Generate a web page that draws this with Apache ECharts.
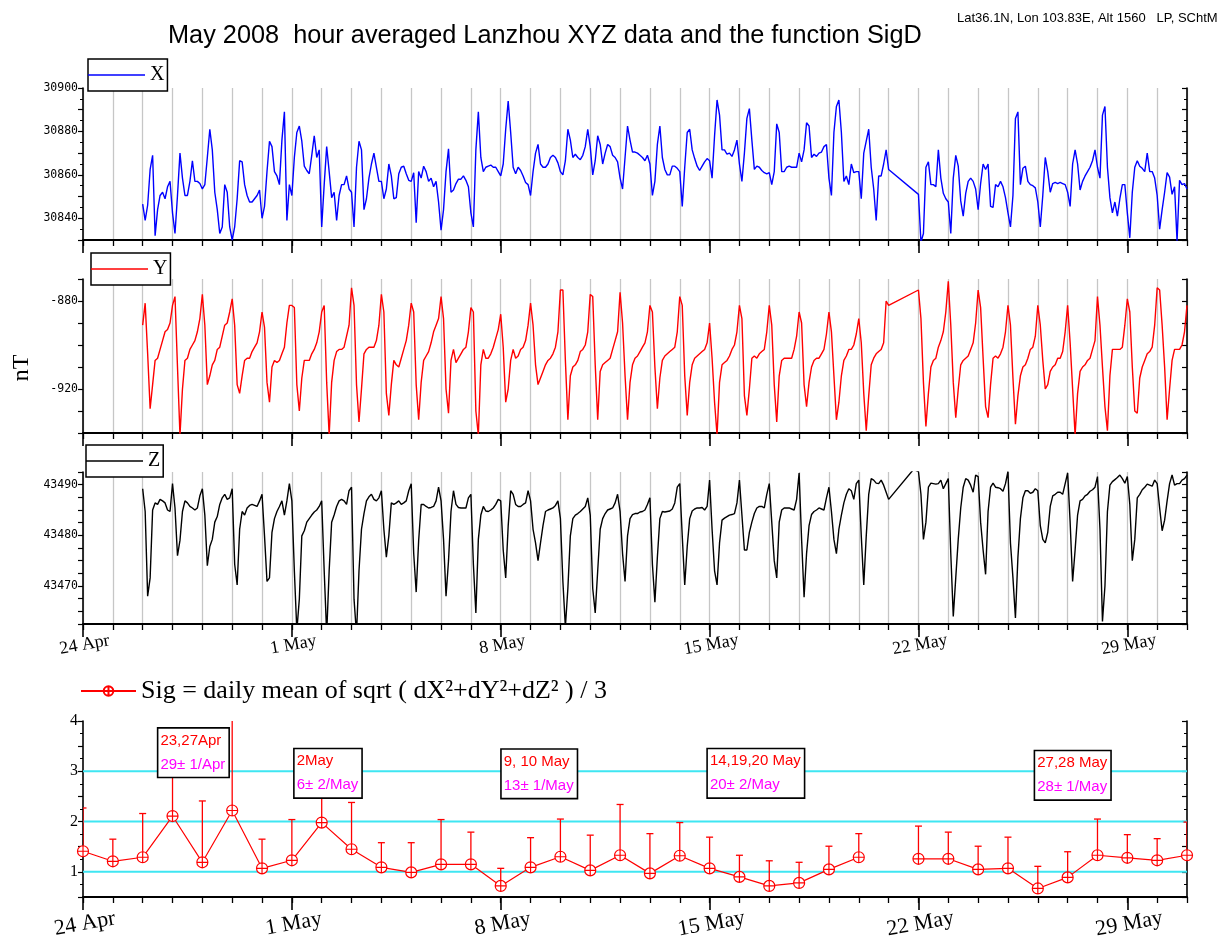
<!DOCTYPE html>
<html>
<head>
<meta charset="utf-8">
<script src="https://cdn.jsdelivr.net/npm/echarts@6/dist/echarts.min.js"></script>
<style>
html,body{margin:0;padding:0;background:#fff;}
#c{width:1218px;height:949px;}
</style>
</head>
<body>
<div id="c"></div>
<script>
// ---------------- DATA ----------------
// hourly-averaged series, sampled every 2 hours, starting 26 Apr 2008 00:00
const SERIES_START_DAY = 2;      // days after 24 Apr
const SAMPLE_STEP_DAY = 1 / 12;  // 2 hours
const DAY_MAX = 37;              // 31 May 00:00

const X_VALUES = [
30846.5,30839,30846,30862.5,30869,30832,30844,30850.5,30852,30849,30854.5,30857,
30842.5,30833,30850.5,30870,30858.5,30850.5,30850.5,30857,30866.5,30857,30857,30856,
30853.5,30855.5,30868,30881,30871.5,30852,30844,30833,30836,30855.5,30852,30836,
30830,30836,30849,30866.5,30866,30855.5,30850.5,30847.5,30847.5,30849,30850.5,30853,
30840,30845.5,30861.5,30875.5,30873,30861.5,30859.5,30855.5,30876,30889,30839,30855.5,
30850.5,30868,30879.5,30882.5,30875.5,30864,30862,30860.5,30869,30878,30868,30871.5,
30836,30855.5,30873,30861.5,30849.5,30852,30839,30850.5,30855.5,30855.5,30859.5,30853.5,
30852,30836,30863.5,30875.5,30871.5,30844,30849,30858.5,30865,30870,30863.5,30857,
30857,30849,30853.5,30865,30859.5,30849,30849.5,30860.5,30863.5,30864,30860.5,30857.5,
30857,30861,30838,30861.5,30858.5,30864,30861.5,30857,30858.5,30854.5,30857,30847.5,
30834.5,30844,30861.5,30872,30852,30853,30856,30858,30858,30859.5,30857.5,30854.5,
30842.5,30836,30871.5,30889,30868,30861.5,30863.5,30864,30864.5,30863.5,30863.5,30861.5,
30859.5,30865,30881,30894,30879.5,30863.5,30860.5,30863.5,30862,30859.5,30856.5,30855.5,
30850.5,30861.5,30870,30874,30865,30863.5,30863.5,30865,30868,30869,30868,30865.5,
30861.5,30860,30866.5,30881,30876,30868,30869.5,30868,30867,30869,30873,30881,
30873,30860,30866.5,30878,30874,30865,30870,30874,30873,30869,30868,30866,
30858.5,30853.5,30868,30882.5,30876,30870.5,30870.5,30870,30869,30868,30866.5,30869,
30865,30850.5,30857,30874,30882.5,30868,30862.5,30860,30860,30864,30864,30863,
30861.5,30845.5,30863.5,30879.5,30881,30871.5,30867.5,30864,30862,30864,30866,30867.5,
30866.5,30858.5,30878,30894.5,30887.5,30871.5,30871.5,30869.5,30870,30868.5,30871.5,30876,
30865,30857,30870,30886,30890.5,30876,30862.5,30864,30863.5,30862,30861,30860.5,
30861,30855.5,30861.5,30883.5,30879.5,30861.5,30861.5,30863.5,30864,30863.5,30863.5,30863.5,
30870,30866,30871.5,30884,30882.5,30868,30869.5,30868.5,30870,30870.5,30873,30874,
30858.5,30850.5,30879.5,30891.5,30894.5,30879.5,30857,30859.5,30855.5,30865,30861,30861.5,
30861.5,30849,30870,30875.5,30881,30863.5,30853.5,30839,30859.5,30859.5,30865,30871.5,
30862.5,null,null,null,null,null,null,null,null,null,null,null,
30851,30829,30833,30863.5,30866,30855.5,30855.5,30854.5,30871.5,30858.5,30851.5,30849,
30847.5,30833,30858.5,30869,30864,30848,30841,30851.5,30857,30858.5,30857,30853.5,
30844,30856,30865,30862.5,30865,30845.5,30845,30855.5,30854.5,30857,30854.5,30849.5,
30842.5,30836,30850.5,30886,30889,30855.5,30863,30864,30857,30855.5,30855,30854,
30847.5,30836,30850.5,30868,30861.5,30852,30856,30856.5,30856,30856.5,30856,30855.5,
30852,30845.5,30865,30871.5,30865,30853,30857,30859.5,30861.5,30863.5,30866.5,30871.5,
30863.5,30858.5,30887.5,30891.5,30863.5,30849.5,30842.5,30847.5,30841,30849,30855.5,30855.5,
30842.5,30831,30852,30863.5,30866.5,30864,30863,30861.5,30870,30861.5,30861.5,30858.5,
30850.5,30835,30844,30852,30861,30859,30851,30854.5,30829.5,30857.5,30855.5,30856,
30853.5
];

const Y_VALUES = [
-891,-881,-904,-929,-918,-907,-906,-902,-898,-894,-893,-890,
-882,-878,-910,-941,-920,-907,-906,-902,-900,-898,-894,-888,
-877,-891,-918,-914,-909,-907,-902,-901,-896,-891,-890,-885,
-879,-891,-918,-922,-914,-907,-906,-906,-903,-901,-899,-894,
-885,-892,-917,-926,-910,-907,-908,-907,-904,-901,-890,-882,
-882,-883,-918,-930,-915,-907,-907,-907,-904,-902,-899,-894,
-885,-882,-917,-941,-917,-907,-903,-902,-902,-901,-896,-891,
-874,-882,-918,-935,-920,-904,-902,-901,-901,-901,-898,-891,
-877,-885,-922,-932,-918,-907,-909,-910,-906,-902,-898,-891,
-881,-885,-918,-934,-917,-907,-905,-903,-899,-894,-891,-888,
-878,-888,-920,-931,-907,-902,-908,-906,-904,-902,-901,-894,
-883,-885,-930,-941,-909,-902,-906,-906,-904,-901,-897,-893,
-886,-901,-926,-920,-907,-902,-906,-905,-902,-901,-898,-891,
-881,-891,-909,-918,-915,-912,-909,-907,-906,-904,-901,-894,
-875,-875,-907,-934,-914,-910,-909,-907,-903,-902,-900,-894,
-877,-878,-909,-934,-912,-909,-908,-907,-906,-902,-898,-894,
-876,-890,-914,-934,-917,-909,-906,-905,-903,-901,-899,-894,
-882,-885,-910,-929,-915,-907,-905,-904,-903,-902,-901,-894,
-878,-882,-914,-932,-917,-909,-906,-905,-904,-903,-902,-899,
-890,-906,-926,-941,-917,-909,-908,-907,-905,-902,-900,-894,
-882,-888,-923,-932,-920,-906,-905,-906,-904,-903,-902,-894,
-882,-891,-918,-935,-914,-907,-906,-906,-906,-906,-902,-896,
-885,-890,-918,-928,-917,-910,-907,-906,-906,-904,-902,-895,
-885,-894,-914,-934,-926,-914,-907,-905,-902,-902,-900,-895,
-888,-899,-922,-939,-923,-909,-906,-904,-903,-902,-899,-880,
-882,null,null,null,null,null,null,null,null,null,null,null,
-875,-888,-917,-937,-922,-910,-907,-906,-901,-898,-894,-885,
-871,-891,-917,-933,-920,-909,-907,-906,-905,-902,-899,-890,
-875,-883,-906,-928,-933,-918,-906,-905,-906,-904,-901,-894,
-882,-891,-915,-936,-923,-914,-910,-909,-906,-902,-901,-896,
-882,-891,-907,-920,-918,-912,-910,-909,-906,-906,-903,-894,
-882,-899,-920,-941,-922,-912,-910,-909,-907,-906,-902,-898,
-878,-891,-910,-928,-939,-914,-902,-902,-902,-902,-901,-891,
-879,-885,-910,-930,-931,-915,-910,-907,-904,-903,-901,-891,
-874,-875,-891,-910,-934,-920,-907,-902,-902,-902,-900,-894,
-882
];

const Z_VALUES = [
43489.2,43484.7,43468,43471.6,43485,43486.4,43486.1,43487.1,43486.8,43486.4,43485,43484.7,
43490.2,43485.4,43476,43479,43484.7,43486.8,43486.4,43485.7,43485.4,43485,43485.4,43487.8,
43489.2,43484,43474,43477.8,43479.2,43482.6,43483.7,43486.1,43487.4,43488.1,43487.1,43487.4,
43489.2,43474.3,43470.2,43481.2,43484.7,43484,43485.4,43485.9,43486.1,43485.9,43485.7,43486.8,
43488.1,43479.9,43470.9,43471.6,43480.6,43483.3,43484.7,43485.7,43486.8,43484,43486.8,43490.2,
43486.8,43473,43461.2,43467.4,43479.9,43480.9,43482.6,43483.3,43484,43484.6,43485,43485.7,
43486.8,43473,43460.5,43473,43482.6,43484,43485.7,43486.8,43487.1,43486.8,43486.1,43488.8,
43489.5,43467.4,43460.5,43473,43481.2,43484.3,43486.8,43487.6,43488.1,43487.1,43486.8,43487.4,
43488.8,43481.2,43475.7,43479.9,43486.4,43486.1,43486.4,43486.8,43486.1,43486.4,43486.8,43488.8,
43490.2,43476.4,43468.8,43479,43486.1,43486.1,43485.7,43485.4,43485.5,43485.7,43486.8,43489.5,
43486.8,43479.2,43468,43475,43484.7,43488.8,43486.1,43485.5,43485.4,43485.4,43485.4,43487.4,
43488.1,43474.3,43464.7,43479.2,43484,43485.7,43484.8,43484.7,43485,43485.4,43486.1,43487.1,
43486.8,43477.1,43471.6,43481.9,43488.8,43488.1,43486.1,43485.7,43485.7,43486.1,43486.4,43488.8,
43486.8,43481.2,43478.5,43475,43478.5,43481.9,43484.7,43485,43485.2,43485.4,43485.9,43486.8,
43483.3,43470.9,43461.9,43469.5,43479.9,43483.3,43484,43484.3,43484.7,43485.2,43485.7,43487.4,
43484,43469.5,43464.7,43473,43481.2,43483.3,43484.3,43485,43485.2,43485.4,43486.4,43488.1,
43484.7,43476.4,43470.9,43479.9,43483.3,43484.1,43484.3,43484.3,43484.6,43484.7,43485,43486.1,
43487.4,43474.3,43466.8,43475.7,43483.3,43484.7,43484.6,43484.7,43484.8,43485.2,43486.4,43489.5,
43490.2,43479.9,43470.2,43477.8,43483.3,43484.8,43485.2,43485.4,43485.4,43485.5,43485,43485.7,
43490.9,43481.2,43473,43470.2,43478.5,43483,43483.4,43483.7,43484,43484.1,43484.3,43486.4,
43490.9,43484,43477.1,43477.1,43480.6,43482.6,43484.3,43485.4,43485.7,43485.7,43485.4,43488.1,
43490.2,43482.6,43475,43471.6,43482.6,43485,43485.4,43485.4,43485.4,43485.2,43485,43487.1,
43492.3,43479.2,43467.8,43476.4,43481.9,43484.1,43484.7,43485,43485.4,43485.2,43485,43487.4,
43489.5,43484.7,43479.2,43476.4,43481.2,43484,43486.4,43488.1,43489.2,43488.8,43487.1,43490.2,
43490.9,43479.9,43470.2,43479.9,43488.1,43491.2,43490.9,43490.3,43490.2,43490.9,43489.9,43488.5,
43487.1,null,null,null,null,null,null,null,null,null,43493,null,
43492.6,43488.1,43479.2,43482.6,43489.5,43490.3,43490.2,43490.1,43490.2,43490.9,43489.2,43490.2,
43491.2,43476.4,43464,43471.6,43479.2,43485.4,43489.5,43491.2,43490.9,43489.9,43488.5,43491.9,
43491.6,43482.6,43477.1,43472.3,43484.7,43489.5,43490.3,43489.5,43489.4,43489.2,43488.7,43490.2,
43492.6,43478.5,43471.6,43463.7,43475.7,43483.3,43487.4,43488.8,43488.8,43488.3,43488.5,43489.2,
43488.8,43481.9,43479.2,43478.5,43480.6,43485.7,43487.8,43488.1,43488.5,43488.5,43488.1,43490.2,
43492.3,43482.6,43470.9,43477.1,43484,43486.8,43487.1,43487.8,43488.1,43488.7,43489,43489.5,
43491.6,43481.2,43463,43470,43484.7,43489.9,43490.6,43491,43491.4,43491.9,43491.2,43490.3,
43491.6,43486.1,43475,43479.2,43487.4,43488.1,43489,43489.5,43490.1,43489.9,43489.7,43490.9,
43490.2,43485.4,43480.9,43483,43486.8,43490.2,43491.9,43489.9,43490.2,43490.2,43490.9,43491.2,
43491.9
];

// daily Sig values (24 Apr .. 31 May) and top of their error bars
const SIG_VALUES = [1.41,1.21,1.29,2.11,1.19,2.22,1.07, 1.23,1.98,1.45,1.09,0.99,1.15,1.15,
  0.72,1.09,1.30,1.03,1.33,0.97,1.32, 1.07,0.90,0.72,0.78,1.05,1.29,null,
  1.26,1.26,1.05,1.07,0.67,0.89,1.33, 1.28,1.23,1.33];
const SIG_UPPER = [2.27,1.65,2.16,3.2,2.41,4.5,1.65, 2.04,2.9,2.38,1.58,1.58,2.04,1.79,
  1.07,1.68,2.05,1.73,2.34,1.76,1.98, 1.69,1.33,1.22,1.19,1.51,1.76,null,
  1.91,1.79,1.51,1.69,1.11,1.40,2.05, 1.74,1.66,1.99];
const SIG_REF_LINES = [1, 2, 3];

// tick labels
const DATE_LABELS = ['24 Apr', '1 May', '8 May', '15 May', '22 May', '29 May'];
const DATE_TICKS = [0, 7, 14, 21, 28, 35];
const X_TICKS = [30840, 30860, 30880, 30900];
const Y_TICKS = [-920, -880];
const Z_TICKS = [43470, 43480, 43490];
const SIG_TICKS = [1, 2, 3, 4];

// annotation boxes (anchor in day / Sig units)
const NOTE_DAYS   = [3.70, 8.21, 15.29, 22.55, 33.17];
const NOTE_LEVELS = [3.37, 2.96, 2.95, 2.96, 2.92];
const NOTE_LINE1  = ['23,27Apr', '2May', '9, 10 May', '14,19,20 May', '27,28 May'];
const NOTE_LINE2  = ['29\u00b1 1/Apr', '6\u00b1 2/May', '13\u00b1 1/May', '20\u00b1 2/May', '28\u00b1 1/May'];

const TITLE = 'May 2008  hour averaged Lanzhou XYZ data and the function SigD';
const STATION = 'Lat36.1N, Lon 103.83E, Alt 1560   LP, SChtM';
const SIG_NAME = 'Sig = daily mean of sqrt ( dX\u00b2+dY\u00b2+dZ\u00b2 ) / 3';

// ---------------- CHART ----------------
const toPairs = arr => arr.map((v, i) => [SERIES_START_DAY + i * SAMPLE_STEP_DAY, v]);
const SERIF = '"Liberation Serif", "Times New Roman", serif';
const SANS = '"Liberation Sans", Arial, sans-serif';
const MONO = '"DejaVu Sans Mono", monospace';

const grids = [
  {left: 83, right: 31, top: 88, height: 152},
  {left: 83, right: 31, top: 279, height: 154},
  {left: 83, right: 31, top: 472, height: 152},
  {left: 83, right: 31, top: 721, height: 176}
];

function xAxesFor(g, labelOpt) {
  return [
    {type: 'value', gridIndex: g, position: 'bottom', min: 0, max: DAY_MAX, interval: 1,
     axisLine: {show: true, onZero: false, lineStyle: {color: '#000', width: 2}},
     axisTick: {show: true, inside: false, length: 6, lineStyle: {color: '#000', width: 1.3}},
     axisLabel: {show: false},
     splitLine: {show: g < 3, lineStyle: {color: '#c6c6c6', width: 1.3}}},
    {type: 'value', gridIndex: g, position: 'bottom', min: 0, max: DAY_MAX, interval: 7,
     axisLine: {show: false, onZero: false},
     axisTick: {show: true, inside: false, length: 13, customValues: DATE_TICKS,
                lineStyle: {color: '#000', width: 1.6}},
     axisLabel: labelOpt ? Object.assign({show: true, customValues: DATE_TICKS,
        formatter: v => { const k = DATE_TICKS.indexOf(Math.round(v)); return k >= 0 ? DATE_LABELS[k] : ''; },
        color: '#000', fontFamily: SERIF, rotate: 10, align: 'center', verticalAlign: 'top'}, labelOpt)
        : {show: false},
     splitLine: {show: false}}
  ];
}

function yAxesFor(g, min, max, interval, ticks, minorSplit, labelStyle) {
  const fmt = v => { const r = Math.round(v * 100) / 100; return ticks.indexOf(r) >= 0 ? String(r) : ''; };
  const left = {type: 'value', gridIndex: g, position: 'left', min, max, interval,
    axisLine: {show: true, onZero: false, lineStyle: {color: '#000', width: 1.6}},
    axisTick: {show: true, inside: false, length: 5, lineStyle: {color: '#000', width: 1.2}},
    minorTick: {show: minorSplit > 0, splitNumber: minorSplit || 1, length: 3, lineStyle: {color: '#000', width: 1}},
    axisLabel: Object.assign({show: true, formatter: fmt, color: '#000', margin: 5,
      showMinLabel: true, showMaxLabel: true}, labelStyle),
    splitLine: {show: false}};
  const right = {type: 'value', gridIndex: g, position: 'right', min, max, interval,
    axisLine: {show: true, onZero: false, lineStyle: {color: '#000', width: 1.6}},
    axisTick: {show: true, inside: true, length: 5, lineStyle: {color: '#000', width: 1.2}},
    minorTick: {show: minorSplit > 0, splitNumber: minorSplit || 1, length: 3, lineStyle: {color: '#000', width: 1}},
    axisLabel: {show: false}, splitLine: {show: false}};
  return [left, right];
}

const smallLabel = {fontFamily: MONO, fontSize: 11.5};

const xAxis = [].concat(
  xAxesFor(0, null),
  xAxesFor(1, null),
  xAxesFor(2, {fontSize: 18, margin: 12}),
  xAxesFor(3, {fontSize: 22, margin: 16})
);
const yAxis = [].concat(
  yAxesFor(0, 30830, 30900, 10, X_TICKS, 2, smallLabel),
  yAxesFor(1, -940, -870, 10, Y_TICKS, 0, smallLabel),
  yAxesFor(2, 43462.5, 43492.5, 2.5, Z_TICKS, 0, smallLabel),
  yAxesFor(3, 0.5, 4, 0.5, SIG_TICKS, 2, {fontFamily: SERIF, fontSize: 16})
);

const legendBase = {
  orient: 'horizontal', selectedMode: false, icon: 'rect', itemWidth: 57, itemHeight: 1.6, itemGap: 0,
  padding: [6, 3, 6, 0], borderColor: '#000', borderWidth: 1.5, backgroundColor: '#fff',
  textStyle: {fontFamily: SERIF, fontSize: 20, color: '#000', lineHeight: 20}
};

const CROSS_CIRCLE = 'path://M10,0A10,10,0,1,1,10,20A10,10,0,1,1,10,0ZM0,10L20,10M10,0L10,20';

const option = {
  animation: false,
  backgroundColor: '#fff',
  title: [
    {text: TITLE, left: 168, top: 24, padding: 0,
     textStyle: {fontFamily: SANS, fontSize: 25.3, fontWeight: 'normal', color: '#000'}},
    {text: STATION, left: 957, top: 12, padding: 0,
     textStyle: {fontFamily: SANS, fontSize: 13, fontWeight: 'normal', color: '#000'}}
  ],
  legend: [
    Object.assign({}, legendBase, {data: ['X'], left: 88, top: 59}),
    Object.assign({}, legendBase, {data: ['Y'], left: 91, top: 253}),
    Object.assign({}, legendBase, {data: ['Z'], left: 86, top: 445}),
    {data: [SIG_NAME], left: 80, top: 678, selectedMode: false, itemWidth: 55, itemHeight: 12,
     padding: 0, textStyle: {fontFamily: SERIF, fontSize: 26, color: '#000'}}
  ],
  grid: grids,
  xAxis: xAxis,
  yAxis: yAxis,
  graphic: [
    {type: 'text', x: 22, y: 368, rotation: Math.PI / 2,
     style: {text: 'nT', font: '24px "Liberation Serif"', fill: '#000', textAlign: 'center', textVerticalAlign: 'middle'}}
  ],
  series: [
    {name: 'X', type: 'line', xAxisIndex: 0, yAxisIndex: 0, data: toPairs(X_VALUES),
     symbol: 'none', connectNulls: true, lineStyle: {color: '#0000ff', width: 1.4}, itemStyle: {color: '#0000ff'}, z: 3},
    {name: 'Y', type: 'line', xAxisIndex: 2, yAxisIndex: 2, data: toPairs(Y_VALUES),
     symbol: 'none', connectNulls: true, lineStyle: {color: '#ff0000', width: 1.4}, itemStyle: {color: '#ff0000'}, z: 3},
    {name: 'Z', type: 'line', xAxisIndex: 4, yAxisIndex: 4, data: toPairs(Z_VALUES),
     symbol: 'none', connectNulls: true, lineStyle: {color: '#000000', width: 1.4}, itemStyle: {color: '#000000'}, z: 3},
    {name: 'refLines', type: 'custom', xAxisIndex: 6, yAxisIndex: 6, z: 1, silent: true,
     data: SIG_REF_LINES.map(v => [0, v]),
     renderItem: (params, api) => {
       const p0 = api.coord([0, api.value(1)]);
       const p1 = api.coord([DAY_MAX, api.value(1)]);
       return {type: 'line', shape: {x1: p0[0], y1: p0[1], x2: p1[0], y2: p1[1]},
               style: {stroke: '#3fe6f2', lineWidth: 2}};
     }},
    {name: 'errorBars', type: 'custom', xAxisIndex: 6, yAxisIndex: 6, z: 2, clip: true, silent: true,
     encode: {x: 0, y: [1, 2]},
     data: SIG_VALUES.map((v, i) => v == null ? null : [i, v, SIG_UPPER[i]]).filter(d => d),
     renderItem: (params, api) => {
       const p0 = api.coord([api.value(0), api.value(1)]);
       const p1 = api.coord([api.value(0), api.value(2)]);
       return {type: 'group', children: [
         {type: 'line', shape: {x1: p0[0], y1: p0[1], x2: p1[0], y2: p1[1]}, style: {stroke: '#ff0000', lineWidth: 1.3}},
         {type: 'line', shape: {x1: p1[0] - 3.5, y1: p1[1], x2: p1[0] + 3.5, y2: p1[1]}, style: {stroke: '#ff0000', lineWidth: 1.3}}
       ]};
     }},
    {name: SIG_NAME, type: 'line', xAxisIndex: 6, yAxisIndex: 6, z: 3,
     data: SIG_VALUES.map((v, i) => [i, v]),
     connectNulls: false, symbol: CROSS_CIRCLE, symbolSize: 11, showAllSymbol: true,
     lineStyle: {color: '#ff0000', width: 1.2},
     itemStyle: {color: '#ffffff', borderColor: '#ff0000', borderWidth: 1.2}},
    {name: 'notes', type: 'scatter', xAxisIndex: 6, yAxisIndex: 6, z: 10, silent: true,
     symbol: 'rect', symbolSize: 1, itemStyle: {color: 'rgba(255,255,255,0)', opacity: 1},
     emphasis: {disabled: true},
     data: NOTE_DAYS.map((d, i) => ({value: [d, NOTE_LEVELS[i]], name: String(i)})),
     label: {show: true, position: 'inside', color: '#000', opacity: 1,
       formatter: p => '{r|' + NOTE_LINE1[+p.name] + '}\n{m|' + NOTE_LINE2[+p.name] + '}',
       backgroundColor: '#ffffff', borderColor: '#000000', borderWidth: 1.6, padding: [0, 3, 0, 2],
       rich: {
         r: {color: '#ff0000', fontFamily: SANS, fontSize: 15, lineHeight: 24, align: 'left'},
         m: {color: '#ff00ff', fontFamily: SANS, fontSize: 15, lineHeight: 24, align: 'left'}
       }}}
  ]
};

const chart = echarts.init(document.getElementById('c'), null, {renderer: 'canvas'});
chart.setOption(option);
</script>
</body>
</html>
